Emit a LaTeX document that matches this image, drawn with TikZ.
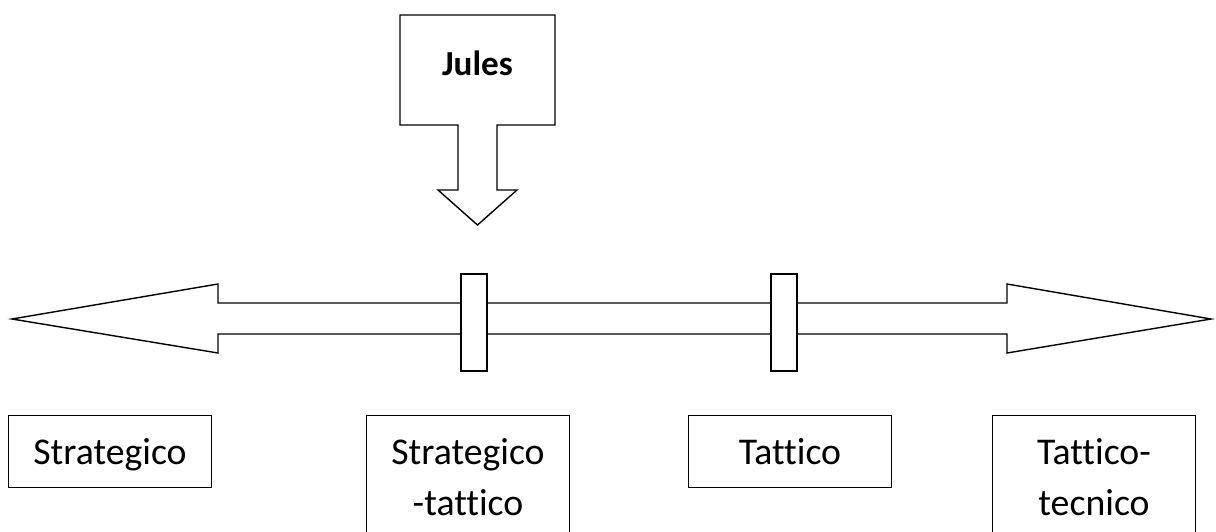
\documentclass[tikz,border=0pt]{standalone}
\usepackage{fontspec}
\setmainfont[Ligatures=NoCommon]{Carlito}
\usepackage{tikz}
\usetikzlibrary{positioning,calc}

\begin{document}
\begin{tikzpicture}[x=0.02cm,y=-0.02cm,
  outl/.style={line width=0.8pt,line join=miter},
  tick/.style={draw,fill=white,line width=0.8pt,inner sep=0pt,
    minimum width=0.52cm,minimum height=1.94cm},
  lvl/.style={draw,line width=0.8pt,inner xsep=0pt,inner ysep=0.46cm,
    align=center,anchor=north,minimum width=4.06cm,text width=3.7cm,
    font=\fontsize{21.5}{29}\selectfont},
  jl/.style={font=\bfseries\fontsize{20}{24}\selectfont}]
  \useasboundingbox (0,0) rectangle (1216,531);
  \clip (0,0) rectangle (1216,531);

  % callout Jules
  \coordinate (jtl) at (400,15);
  \coordinate (jbr) at (555,125);
  \coordinate (jtip) at (477.5,225);
  \draw[outl,fill=white] (jtl) -- (jtl -| jbr) -- (jbr) -- (497,125) -- (497,190)
    -- (517,190) -- (jtip) -- (438,190) -- (458,190) -- (458,125)
    -- (jtl |- jbr) -- cycle;
  \node[jl,anchor=base] (jules) at (477.5,75) {Jules};

  % main double arrow
  \coordinate (ltip) at (12,319);
  \coordinate (rtip) at (1211,319);
  \draw[outl] (ltip) -- (218,284) -- (218,303) -- (1007,303) -- (1007,284)
    -- (rtip) -- (1007,353) -- (1007,334) -- (218,334) -- (218,353) -- cycle;

  \node[tick] (mk1) at (474,322.5) {};
  \node[tick] (mk2) at (784,322.5) {};

  % levels
  \node[lvl,text depth=0pt] (strat) at (110,415) {Strategico};
  \node[lvl] (strtat) at (468,415) {Strategico\\-tattico};
  \node[lvl,text depth=0pt] (tatt) at (790,415) {Tattico};
  \node[lvl] (tattec) at (1094,415) {Tattico-\\tecnico};
\end{tikzpicture}
\end{document}
